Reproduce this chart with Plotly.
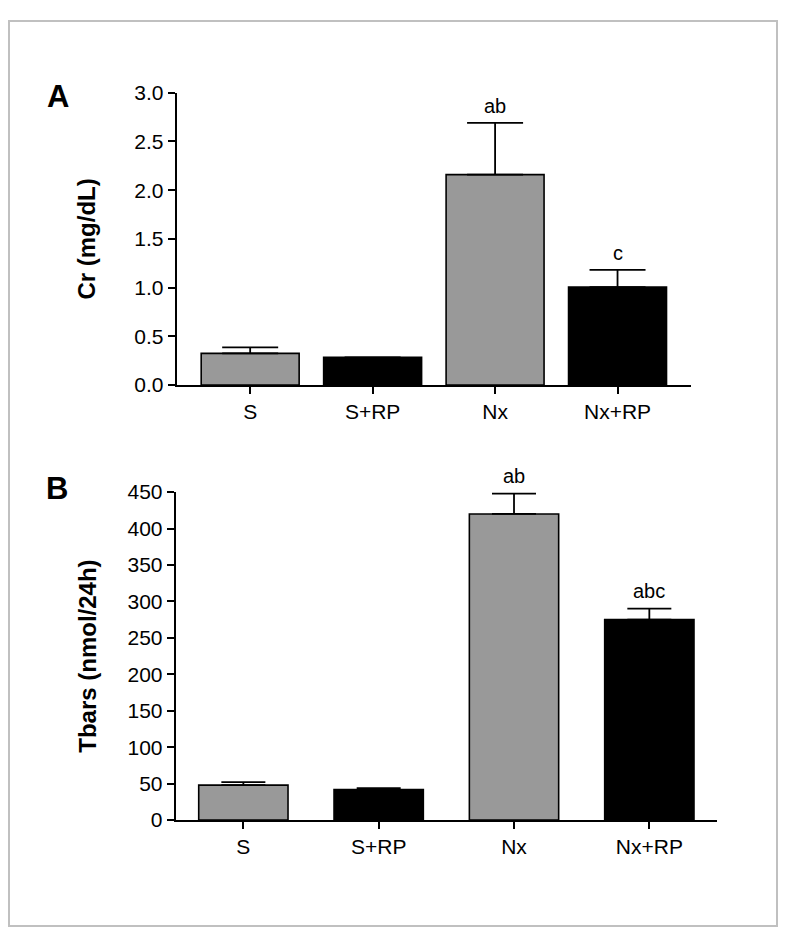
import plotly.graph_objects as go

# ---- data ----
categories = ["S", "S+RP", "Nx", "Nx+RP"]
cr_mean = [0.326, 0.285, 2.16, 1.005]
cr_sem = [0.062, 0.0, 0.53, 0.178]
cr_letters = ["", "", "ab", "c"]

tbars_mean = [48, 42, 420, 275]
tbars_sem = [4, 2, 28, 15]
tbars_letters = ["", "", "ab", "abc"]

bar_colors = ["#999999", "#000000", "#999999", "#000000"]

# figure size and page placement (measured from earlier renders)
W, H = 770, 930
OX = 8          # horizontal page offset of the figure
OY = 21.3       # vertical page offset of the figure
SY = 0.973      # vertical scale of the photographed page
FONT = "Liberation Sans, Arial, sans-serif"


def px_x(p):
    return (p - OX) / W


def px_y(p):
    return 1 - (p / SY - OY) / H


fig = go.Figure()

fig.add_trace(go.Bar(
    x=categories, y=cr_mean, xaxis="x", yaxis="y",
    width=0.8,
    marker=dict(color=bar_colors, line=dict(color="black", width=1.6)),
    error_y=dict(type="data", symmetric=False, array=cr_sem,
                 arrayminus=[0] * len(cr_sem), color="black",
                 thickness=1.8, width=28),
    showlegend=False,
))

fig.add_trace(go.Bar(
    x=categories, y=tbars_mean, xaxis="x2", yaxis="y2",
    width=0.66,
    marker=dict(color=bar_colors, line=dict(color="black", width=1.6)),
    error_y=dict(type="data", symmetric=False, array=tbars_sem,
                 arrayminus=[0] * len(tbars_sem), color="black",
                 thickness=1.8, width=22),
    showlegend=False,
))

annotations = []
for c, m, s, t in zip(categories, cr_mean, cr_sem, cr_letters):
    if t:
        annotations.append(dict(x=c, y=m + s, xref="x", yref="y", text=t,
                                showarrow=False, yanchor="middle", yshift=17,
                                font=dict(family=FONT, size=20, color="black")))
for c, m, s, t in zip(categories, tbars_mean, tbars_sem, tbars_letters):
    if t:
        annotations.append(dict(x=c, y=m + s, xref="x2", yref="y2", text=t,
                                showarrow=False, yanchor="middle", yshift=18,
                                font=dict(family=FONT, size=20, color="black")))

annotations.append(dict(x=px_x(58), y=px_y(97), xref="paper", yref="paper",
                        text="<b>A</b>", showarrow=False, xanchor="center",
                        yanchor="middle",
                        font=dict(family=FONT, size=31, color="black")))
annotations.append(dict(x=px_x(57), y=px_y(488), xref="paper", yref="paper",
                        text="<b>B</b>", showarrow=False, xanchor="center",
                        yanchor="middle",
                        font=dict(family=FONT, size=31, color="black")))

axis_common = dict(showline=True, linecolor="black", linewidth=2,
                   ticks="outside", ticklen=7, tickwidth=2, tickcolor="black",
                   showgrid=False, zeroline=False,
                   tickfont=dict(family=FONT, size=21, color="black"))

fig.update_layout(
    width=W, height=H, autosize=False,
    margin=dict(l=0, r=0, t=0, b=0),
    paper_bgcolor="white", plot_bgcolor="white",
    bargap=0.2,
    xaxis=dict(domain=[px_x(176.7), px_x(691)], anchor="y",
               type="category", range=[-0.6, 3.6], **axis_common),
    yaxis=dict(domain=[px_y(385), px_y(93.3)], anchor="x",
               range=[0, 3.0], tickvals=[0, 0.5, 1.0, 1.5, 2.0, 2.5, 3.0],
               ticktext=["0.0", "0.5", "1.0", "1.5", "2.0", "2.5", "3.0"],
               title=dict(text="<b>Cr (mg/dL)</b>", standoff=32,
                          font=dict(family=FONT, size=24, color="black")),
               **axis_common),
    xaxis2=dict(domain=[px_x(175.7), px_x(717)], anchor="y2",
                type="category", range=[-0.5, 3.5], **axis_common),
    yaxis2=dict(domain=[px_y(819), px_y(491.7)], anchor="x2",
                range=[0, 450], tickvals=list(range(0, 451, 50)),
                title=dict(text="<b>Tbars (nmol/24h)</b>", standoff=24,
                           font=dict(family=FONT, size=24, color="black")),
                **axis_common),
    annotations=annotations,
    shapes=[dict(type="rect", xref="paper", yref="paper",
                 x0=1 / W, x1=1 - 1 / W, y0=1 / H, y1=1 - 1 / H,
                 line=dict(color="#c0c0c0", width=2), fillcolor="rgba(0,0,0,0)",
                 layer="below")],
)

fig.write_html("out.html")
